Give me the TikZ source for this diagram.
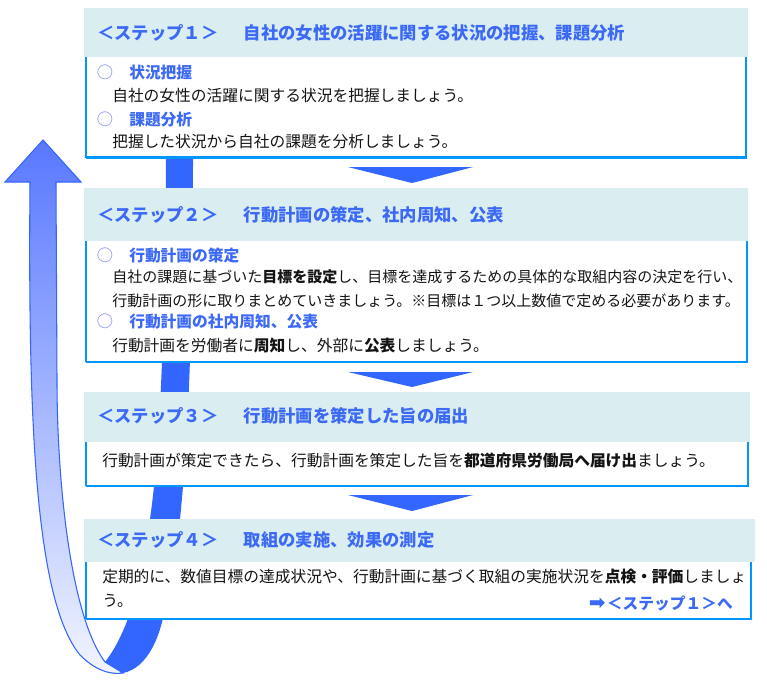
\documentclass[tikz,border=0pt]{standalone}
\usepackage{fontspec}
\setmainfont{Noto Sans CJK JP}
\newfontfamily\dv{DejaVu Sans}
\definecolor{hdr}{RGB}{218,237,240}
\definecolor{ttl}{RGB}{60,105,245}
\definecolor{bord}{RGB}{0,150,255}
\definecolor{dblue}{RGB}{51,102,255}
\definecolor{ribA}{RGB}{88,120,255}
\definecolor{ribB}{RGB}{242,245,255}
\definecolor{circ}{RGB}{110,125,240}
\definecolor{txt}{RGB}{20,20,20}
\newcommand{\tgap}{　\hspace{6pt}}
\tikzset{
  ttlnode/.style={anchor=base west, inner sep=0pt, text=ttl, font=\bfseries\fontsize{13}{13}\selectfont},
  subnode/.style={anchor=base west, inner sep=0pt, text=ttl, font=\bfseries\fontsize{11.8}{11.8}\selectfont},
  circnode/.style={anchor=base west, inner sep=0pt, text=circ, font=\fontsize{12.2}{12.2}\selectfont},
  bodynode/.style={anchor=base west, inner sep=0pt, text=txt, font=\fontsize{11.8}{11.8}\selectfont},
  bodysmall/.style={anchor=base west, inner sep=0pt, text=txt, font=\fontsize{11.25}{11.25}\selectfont},
  hdrbox/.style={fill=hdr},
  leftborder/.style={draw=bord, line width=1.6pt},
  rbborder/.style={draw=bord, line width=2.2pt},
  tri/.style={fill=dblue}
}
\begin{document}
\begin{tikzpicture}[x=0.75pt,y=-0.75pt]
\useasboundingbox (0,0) rectangle (767,679);
\fill[white] (0,0) rectangle (767,679);
% back band of the loop
\fill[dblue] (166,60) -- (166,159) .. controls (165,330) and (160,450) .. (150,519)
  .. controls (143,575) and (130,630) .. (105,662) -- (123,673)
  .. controls (148,668) and (162,635) .. (166,600)
  .. controls (172,560) and (178,540) .. (180,519)
  .. controls (188,440) and (193,330) .. (193,159) -- (193,60) -- cycle;
% front ribbon with arrow head
\path[shade, top color=ribA, bottom color=ribB, draw=dblue, line width=0.8pt]
  (43,140) -- (81,182) -- (56,182) -- (57,380) .. controls (57,480) and (70,615) .. (105,662)
  -- (123,673) .. controls (110,675) and (95,670) .. (80,655)
  .. controls (35,600) and (28,420) .. (30,182) -- (5,182) -- cycle;
% step 1
\fill[white] (86,57) rectangle (746,157.5);
\draw[leftborder] (86,57) -- (86,157.5);
\draw[rbborder] (86,157.5) -- (746,157.5) -- (746,57);
\fill[hdrbox] (84,8) rectangle (748,57);
\fill[tri] (348,167) -- (473,167) -- (412,183) -- cycle;
% step 2
\fill[white] (86,241) rectangle (747,362);
\draw[leftborder] (86,241) -- (86,362);
\draw[rbborder] (86,362) -- (747,362) -- (747,241);
\fill[hdrbox] (84,188) rectangle (748,241);
\fill[tri] (348,372) -- (473,372) -- (412,387) -- cycle;
% step 3
\fill[white] (86,442) rectangle (748,486);
\draw[leftborder] (86,442) -- (86,486);
\draw[rbborder] (86,486) -- (748,486) -- (748,442);
\fill[hdrbox] (84,392) rectangle (750,442);
\fill[tri] (348,495) -- (473,495) -- (412,511) -- cycle;
% step 4
\fill[white] (86,562) rectangle (751,619);
\draw[leftborder] (86,562) -- (86,619);
\draw[rbborder] (86,619) -- (751,619) -- (751,562);
\fill[hdrbox] (84,519) rectangle (755,562);
% texts step 1
\node[ttlnode] (t1) at (97,39.5) {＜ステップ１＞\tgap 自社の女性の活躍に関する状況の把握、課題分析};
\node[circnode] (c11) at (96.5,78.5) {○};
\node[subnode] (s11) at (129,78.5) {状況把握};
\node[bodynode] (b11) at (112,101) {自社の女性の活躍に関する状況を把握しましょう。};
\node[circnode] (c12) at (96.5,125) {○};
\node[subnode] (s12) at (129,125) {課題分析};
\node[bodynode] (b12) at (112,147.7) {把握した状況から自社の課題を分析しましょう。};
% texts step 2
\node[ttlnode] (t2) at (97,221.5) {＜ステップ２＞\tgap 行動計画の策定、社内周知、公表};
\node[circnode] (c21) at (96.5,261) {○};
\node[subnode] (s21) at (129,261) {行動計画の策定};
\node[bodysmall] (b21) at (112,282.7) {自社の課題に基づいた\textbf{目標を設定}し、目標を達成するための具体的な取組内容の決定を行い、};
\node[bodysmall] (b22) at (112,306) {行動計画の形に取りまとめていきましょう。※目標は１つ以上数値で定める必要があります。};
\node[circnode] (c22) at (96.5,327.7) {○};
\node[subnode] (s22) at (129,327.7) {行動計画の社内周知、公表};
\node[bodynode] (b23) at (112,351.8) {行動計画を労働者に\textbf{周知}し、外部に\textbf{公表}しましょう。};
% texts step 3
\node[ttlnode] (t3) at (97,422) {＜ステップ３＞\tgap 行動計画を策定した旨の届出};
\node[bodynode] (b31) at (102,466) {行動計画が策定できたら、行動計画を策定した旨を\textbf{都道府県労働局へ届け出}ましょう。};
% texts step 4
\node[ttlnode] (t4) at (97,546.5) {＜ステップ４＞\tgap 取組の実施、効果の測定};
\node[bodynode] (b41) at (102,582.7) {定期的に、数値目標の達成状況や、行動計画に基づく取組の実施状況を\textbf{点検・評価}しましょ};
\node[bodynode] (b42) at (102,606) {う。};
\node[subnode, anchor=base east] (back) at (733,609.5) {{\dv\fontsize{15}{15}\selectfont ➡}\hspace{1pt}＜ステップ１＞へ};
\end{tikzpicture}
\end{document}
